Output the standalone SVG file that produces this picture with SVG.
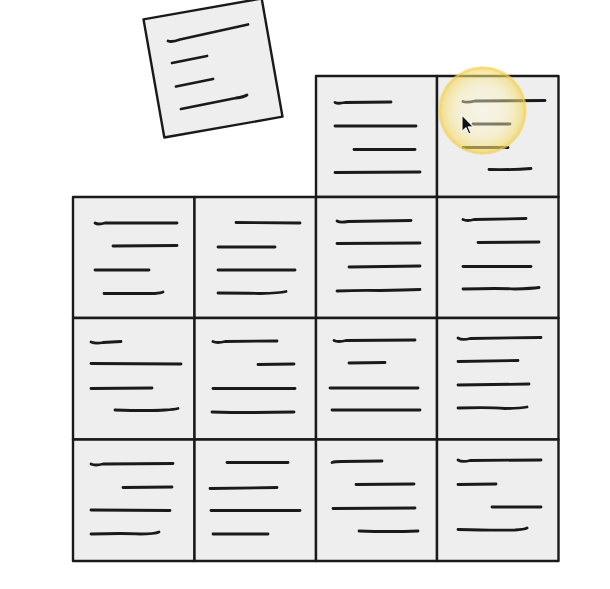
<svg xmlns="http://www.w3.org/2000/svg" width="610" height="589" viewBox="0 0 610 589">
<defs>
<style>
.card{fill:#eeeeee;stroke:#1a1a1a;stroke-width:2.4;stroke-linejoin:round}
.t{fill:none;stroke:#1a1a1a;stroke-width:2.8;stroke-linecap:round;stroke-linejoin:round}
</style>
<radialGradient id="glow" cx="0.5" cy="0.5" r="0.5">
<stop offset="0" stop-color="#fffbe8" stop-opacity="0.45"/>
<stop offset="0.6" stop-color="#fdf0b0" stop-opacity="0.45"/>
<stop offset="0.9" stop-color="#f6dc6c" stop-opacity="0.6"/>
<stop offset="1" stop-color="#f0cc45" stop-opacity="0.7"/>
</radialGradient>
</defs>
<rect width="610" height="589" fill="#ffffff"/>

<g id="card-loose">
<rect class="card" x="-60" y="-60" width="120" height="120" transform="translate(213,68) rotate(-10)"/>
<path class="t" d="M168 41 Q172 42.5 180 39.5 L248 24.5"/>
<path class="t" d="M172 63 L207 56"/>
<path class="t" d="M176 86.5 L213 79"/>
<path class="t" d="M181 109 L236 98 Q244 97 247 95"/>
</g>

<g id="card-r0c3">
<rect class="card" x="316" y="76" width="121" height="121"/>
<path class="t" d="M335 102.5 Q338 104 345 102.5 L391 102"/>
<path class="t" d="M335 126 L416 126"/>
<path class="t" d="M354 149.5 L415 149.5"/>
<path class="t" d="M335 172.5 L420 172"/>
</g>
<g id="card-r0c4">
<rect class="card" x="437" y="76" width="121.5" height="121"/>
<path class="t" d="M463 101.5 Q467 103 475 101 L545 100.5"/>
<path class="t" d="M473 124 L510 124"/>
<path class="t" d="M463 147.5 L508 147.5"/>
<path class="t" d="M489 169.5 Q512 170 531 168.5"/>
</g>

<g id="card-r1c1">
<rect class="card" x="73" y="197" width="121.5" height="121"/>
<path class="t" d="M95 223 Q98 225 105 223 L177 223"/>
<path class="t" d="M113 246 L177 245.5"/>
<path class="t" d="M95 270 L149 270"/>
<path class="t" d="M104 293.5 L155 293.5 Q161 293 163 292"/>
</g>
<g id="card-r1c2">
<rect class="card" x="194.5" y="197" width="121.5" height="121"/>
<path class="t" d="M236 222.5 L300 223"/>
<path class="t" d="M218 247 L275 247"/>
<path class="t" d="M218 270 L295 270"/>
<path class="t" d="M218 293 Q250 293 260 293.5 Q280 293 286 291.5"/>
</g>
<g id="card-r1c3">
<rect class="card" x="316" y="197" width="121" height="121"/>
<path class="t" d="M337 221 Q340 223 348 221.5 L411 220.5"/>
<path class="t" d="M337 243.5 L420 243"/>
<path class="t" d="M349 267 L420 266"/>
<path class="t" d="M337 291 Q360 290 380 290.5 Q405 290 420 289.5"/>
</g>
<g id="card-r1c4">
<rect class="card" x="437" y="197" width="121.5" height="121"/>
<path class="t" d="M463 219.5 Q467 221.5 474 219.5 L526 218.5"/>
<path class="t" d="M478 242.5 L539 242"/>
<path class="t" d="M463 266.5 L531 266.5"/>
<path class="t" d="M463 289 Q500 288 515 289 Q532 288.5 539 287.5"/>
</g>

<g id="card-r2c1">
<rect class="card" x="73" y="318" width="121.5" height="121.5"/>
<path class="t" d="M91 342 Q96 344 103 342.5 L121 341.5"/>
<path class="t" d="M91 363.5 L181 364"/>
<path class="t" d="M91 388.5 L152 388"/>
<path class="t" d="M115 410 Q150 411 165 410 Q174 409.5 178 408.5"/>
</g>
<g id="card-r2c2">
<rect class="card" x="194.5" y="318" width="121.5" height="121.5"/>
<path class="t" d="M213 341.5 Q217 343.5 225 341.5 L277 341"/>
<path class="t" d="M258 364.5 L294 364"/>
<path class="t" d="M213 388.5 L295 388.5"/>
<path class="t" d="M212 412 Q250 413 294 412"/>
</g>
<g id="card-r2c3">
<rect class="card" x="316" y="318" width="121" height="121.5"/>
<path class="t" d="M334 340.5 Q338 342.5 346 340.5 L415 340"/>
<path class="t" d="M349 363 L385 362.5"/>
<path class="t" d="M330 388 L418 388"/>
<path class="t" d="M332 410 L420 410"/>
</g>
<g id="card-r2c4">
<rect class="card" x="437" y="318" width="121.5" height="121.5"/>
<path class="t" d="M458 338 Q462 340.5 470 338.5 L541 337.5"/>
<path class="t" d="M458 361.5 L518 360.5"/>
<path class="t" d="M458 385 L529 384"/>
<path class="t" d="M458 408 Q490 407 505 408.5 Q520 408.5 527 407"/>
</g>

<g id="card-r3c1">
<rect class="card" x="73" y="439.5" width="121.5" height="121.5"/>
<path class="t" d="M91 464 Q95 466 103 464 L173 463.5"/>
<path class="t" d="M123 487.5 L172 487"/>
<path class="t" d="M91 510 L170 510.5"/>
<path class="t" d="M91 534 Q125 533 140 534 Q155 534 159 532"/>
</g>
<g id="card-r3c2">
<rect class="card" x="194.5" y="439.5" width="121.5" height="121.5"/>
<path class="t" d="M227 462.5 L288 462.5"/>
<path class="t" d="M210 488.5 L277 487.5"/>
<path class="t" d="M211 510.5 L300 510.5"/>
<path class="t" d="M213 534 L268 534"/>
</g>
<g id="card-r3c3">
<rect class="card" x="316" y="439.5" width="121" height="121.5"/>
<path class="t" d="M332 462.5 Q335 461.5 342 461.5 L382 461"/>
<path class="t" d="M356 484.5 L414 484"/>
<path class="t" d="M333 508.5 L415 508"/>
<path class="t" d="M359 531 Q390 532 418 531"/>
</g>
<g id="card-r3c4">
<rect class="card" x="437" y="439.5" width="121.5" height="121.5"/>
<path class="t" d="M458 460 Q462 462.5 470 460.5 L541 460"/>
<path class="t" d="M458 484.5 L496 484"/>
<path class="t" d="M492 507 L541 507"/>
<path class="t" d="M458 529.5 Q495 530.5 515 530 Q524 529.5 527 528"/>
</g>

<g id="highlight">
<circle cx="482.5" cy="110.5" r="43" fill="url(#glow)" stroke="#f2d461" stroke-opacity="0.6" stroke-width="2.5"/>
</g>
<g id="cursor">
<path d="M0 0 L0 16.5 L4 12.8 L6.8 19 L9 18 L6.3 11.9 L11.5 11.9 Z" transform="translate(462,115)" fill="#111111" stroke="#ffffff" stroke-opacity="0.85" stroke-width="1.2" stroke-linejoin="round"/>
</g>
</svg>
